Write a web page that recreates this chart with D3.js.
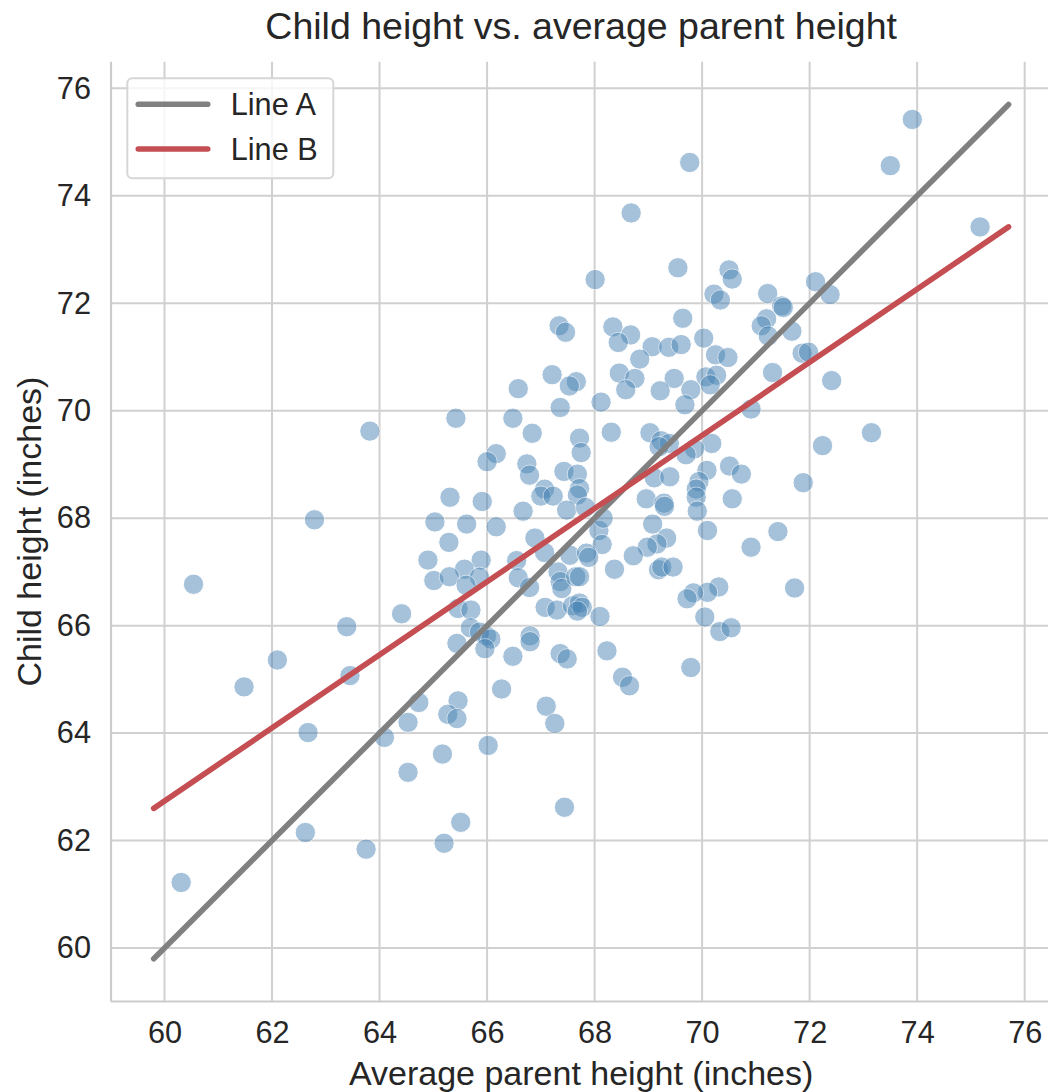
<!DOCTYPE html>
<html>
<head>
<meta charset="utf-8">
<script src="https://cdnjs.cloudflare.com/ajax/libs/d3/7.8.5/d3.min.js"></script>
<style>
  body { margin: 0; background: #fff; }
  svg { display: block; font-family: "Liberation Sans", Arial, sans-serif; }
  .tick text { fill: #262626; font-size: 30.7px; }
</style>
</head>
<body>
<svg id="chart" width="1048" height="1092"></svg>
<script>
// ---------------------------- DATA ----------------------------
// Average parent height (x) and child height (y)
const parentHeight = [
  67.34, 67.46, 67.21, 67.66, 67.53, 66.58, 68.12, 67.36, 65.42, 66.48,
  66.84, 67.72, 68.31, 67.75, 66.17, 66.00, 66.74, 66.79, 67.43, 67.68,
  67.72, 67.68, 67.07, 67.00, 67.23, 65.31, 65.91, 66.67, 67.48, 67.83,
  65.03, 65.62, 66.17, 65.29, 66.89, 67.07, 68.08, 68.14, 67.54, 67.85,
  67.89, 64.90, 65.89, 66.55, 65.58, 65.01, 65.30, 65.86, 65.61, 66.58,
  66.79, 67.32, 67.36, 67.39, 67.65, 67.72, 68.37, 64.41, 65.46, 65.70,
  67.08, 67.30, 67.59, 67.72, 67.77, 67.68, 68.10, 65.69, 65.86, 65.44,
  65.99, 66.07, 65.96, 66.80, 66.80, 66.48, 67.36, 67.49, 68.23, 66.27,
  64.73, 65.46, 65.27, 65.44, 64.53, 67.10, 67.26, 64.09, 66.02, 65.17,
  64.53, 67.44, 65.51, 65.20, 60.54, 63.39, 62.10, 61.48, 63.45, 62.67,
  62.62, 63.75, 60.31, 63.82, 62.79, 68.68, 68.01, 69.55, 70.50, 70.56,
  70.22, 70.34, 71.22, 72.11, 72.38, 71.48, 71.51, 69.64, 68.34, 68.67,
  68.44, 71.20, 71.10, 71.67, 71.23, 70.03, 69.07, 69.38, 69.61, 68.84,
  70.25, 70.48, 71.86, 71.98, 68.46, 68.75, 69.48, 70.07, 70.27, 70.15,
  71.31, 72.41, 68.58, 69.22, 69.79, 69.68, 70.91, 69.03, 69.24, 69.39,
  70.18, 69.86, 72.24, 69.20, 69.70, 70.09, 70.51, 70.73, 69.94, 69.89,
  69.89, 69.91, 70.56, 71.88, 69.11, 69.40, 68.96, 69.29, 69.30, 68.16,
  69.08, 70.10, 71.41, 70.91, 69.34, 69.16, 68.98, 68.72, 69.19, 69.25,
  69.46, 71.72, 70.31, 70.10, 69.84, 69.72, 70.05, 70.33, 70.54, 69.79,
  68.52, 68.65, 73.91, 73.50, 75.17, 73.15, 69.77
];
const childHeight = [
  71.58, 71.46, 70.67, 70.54, 70.46, 70.41, 70.16, 70.06, 69.86, 69.86,
  69.58, 69.49, 69.60, 69.22, 69.20, 69.05, 69.01, 68.80, 68.87, 68.82,
  68.55, 68.43, 68.54, 68.41, 68.41, 68.39, 68.31, 68.13, 68.15, 68.20,
  67.93, 67.89, 67.84, 67.55, 67.63, 67.36, 67.77, 67.51, 67.31, 67.35,
  67.27, 67.22, 67.22, 67.21, 67.05, 66.84, 66.91, 66.90, 66.75, 66.89,
  66.71, 67.00, 66.82, 66.69, 66.91, 66.91, 67.05, 66.22, 66.32, 66.29,
  66.34, 66.29, 66.37, 66.42, 66.34, 66.27, 66.17, 65.96, 65.88, 65.67,
  65.81, 65.75, 65.57, 65.81, 65.70, 65.43, 65.48, 65.38, 65.53, 64.82,
  64.57, 64.60, 64.35, 64.27, 64.20, 64.50, 64.18, 63.92, 63.77, 63.61,
  63.27, 62.62, 62.34, 61.95, 66.77, 65.98, 65.36, 64.86, 65.07, 64.01,
  62.15, 61.84, 61.22, 69.62, 67.97, 73.68, 72.44, 72.66, 72.62, 72.45,
  72.17, 72.06, 72.18, 72.40, 72.16, 71.95, 71.92, 71.72, 71.56, 71.41,
  71.27, 71.71, 71.58, 71.48, 71.39, 71.35, 71.19, 71.18, 71.23, 70.96,
  71.04, 70.99, 71.07, 71.09, 70.70, 70.60, 70.60, 70.63, 70.66, 70.48,
  70.71, 70.56, 70.39, 70.37, 70.39, 70.11, 70.03, 69.59, 69.44, 69.39,
  69.39, 69.29, 69.35, 69.33, 69.18, 68.89, 68.97, 68.82, 68.68, 68.54,
  68.39, 68.13, 68.36, 68.66, 68.75, 68.77, 68.36, 68.28, 68.22, 68.00,
  67.89, 67.77, 67.75, 67.46, 67.63, 67.52, 67.46, 67.30, 67.04, 67.09,
  67.09, 66.70, 66.72, 66.62, 66.61, 66.50, 66.16, 65.89, 65.96, 65.22,
  65.04, 64.88, 75.42, 74.56, 73.42, 69.59, 74.62
];

// Line end points
const lineX = [59.8, 75.7];
const lineA = [59.8, 75.7];
const lineB = [62.6, 73.42];
const lineNames = ["Line A", "Line B"];
const lineColors = ["#808080", "#c44e52"];

const xTicks = [60, 62, 64, 66, 68, 70, 72, 74, 76];
const yTicks = [60, 62, 64, 66, 68, 70, 72, 74, 76];
const xDomain = [59.005, 76.495];
const yDomain = [59.005, 76.495];

const titleText = "Child height vs. average parent height";
const xLabel = "Average parent height (inches)";
const yLabel = "Child height (inches)";

// ---------------------------- LAYOUT ----------------------------
const plotLeft = 111;
const plotRight = 1051.3;
const plotTop = 61.7;
const plotBottom = 1001.5;

const svg = d3.select("#chart");

const x = d3.scaleLinear().domain(xDomain).range([plotLeft, plotRight]);
const y = d3.scaleLinear().domain(yDomain).range([plotBottom, plotTop]);

// Grid
const grid = svg.append("g").attr("stroke", "#d0d0d0").attr("stroke-width", 2);
grid.selectAll(".vgrid")
    .data(xTicks)
    .enter()
    .append("line")
    .attr("x1", d => x(d)).attr("x2", d => x(d))
    .attr("y1", plotTop).attr("y2", plotBottom);
grid.selectAll(".hgrid")
    .data(yTicks)
    .enter()
    .append("line")
    .attr("x1", plotLeft).attr("x2", plotRight)
    .attr("y1", d => y(d)).attr("y2", d => y(d));

// Axes (labels only, seaborn whitegrid has no tick marks)
const xAxis = svg.append("g")
    .attr("transform", "translate(0," + plotBottom + ")")
    .call(d3.axisBottom(x).tickValues(xTicks).tickSize(0).tickPadding(20).tickFormat(d3.format("d")));
const yAxis = svg.append("g")
    .attr("transform", "translate(" + plotLeft + ",0)")
    .call(d3.axisLeft(y).tickValues(yTicks).tickSize(0).tickPadding(20).tickFormat(d3.format("d")));
xAxis.select(".domain").remove();
yAxis.select(".domain").remove();
svg.selectAll(".tick text").attr("font-family", null).attr("font-size", null);

// Scatter points
const points = parentHeight.map((p, i) => ({ x: p, y: childHeight[i] }));
svg.append("g")
    .selectAll("circle")
    .data(points)
    .enter()
    .append("circle")
    .attr("cx", d => x(d.x))
    .attr("cy", d => y(d.y))
    .attr("r", 10.2)
    .attr("fill", "#4682b4")
    .attr("stroke", "#ffffff")
    .attr("stroke-width", 1)
    .attr("opacity", 0.48);

// Lines
const lineGen = d3.line().x(d => x(d[0])).y(d => y(d[1]));
[lineA, lineB].forEach((ys, i) => {
    svg.append("path")
        .datum(lineX.map((v, j) => [v, ys[j]]))
        .attr("d", lineGen)
        .attr("fill", "none")
        .attr("stroke", lineColors[i])
        .attr("stroke-width", 5.6)
        .attr("stroke-linecap", "round");
});

// Spines (left + bottom only)
svg.append("line")
    .attr("x1", plotLeft).attr("x2", plotLeft)
    .attr("y1", plotTop).attr("y2", plotBottom)
    .attr("stroke", "#cccccc").attr("stroke-width", 2.2);
svg.append("line")
    .attr("x1", plotLeft).attr("x2", plotRight)
    .attr("y1", plotBottom).attr("y2", plotBottom)
    .attr("stroke", "#cccccc").attr("stroke-width", 2.2);

// Title and axis labels
svg.append("text")
    .attr("x", (plotLeft + plotRight) / 2)
    .attr("y", 38.5)
    .attr("text-anchor", "middle")
    .attr("fill", "#262626")
    .style("font-size", "37.5px")
    .text(titleText);
svg.append("text")
    .attr("x", (plotLeft + plotRight) / 2)
    .attr("y", 1085)
    .attr("text-anchor", "middle")
    .attr("fill", "#262626")
    .style("font-size", "34px")
    .text(xLabel);
svg.append("text")
    .attr("transform", "translate(41," + ((plotTop + plotBottom) / 2) + ") rotate(-90)")
    .attr("text-anchor", "middle")
    .attr("fill", "#262626")
    .style("font-size", "34px")
    .text(yLabel);

// Legend
const legend = svg.append("g").attr("transform", "translate(127.3,78.3)");
legend.append("rect")
    .attr("width", 206)
    .attr("height", 100)
    .attr("rx", 5)
    .attr("fill", "#ffffff")
    .attr("fill-opacity", 0.8)
    .attr("stroke", "#d6d6d6")
    .attr("stroke-width", 2);
lineNames.forEach((name, i) => {
    const ly = 26 + i * 44.7;
    legend.append("line")
        .attr("x1", 11).attr("x2", 80.4)
        .attr("y1", ly).attr("y2", ly)
        .attr("stroke", lineColors[i])
        .attr("stroke-width", 5.6)
        .attr("stroke-linecap", "round");
    legend.append("text")
        .attr("x", 103.4)
        .attr("y", ly + 11)
        .attr("fill", "#262626")
        .style("font-size", "30.7px")
        .text(name);
});
</script>
</body>
</html>
